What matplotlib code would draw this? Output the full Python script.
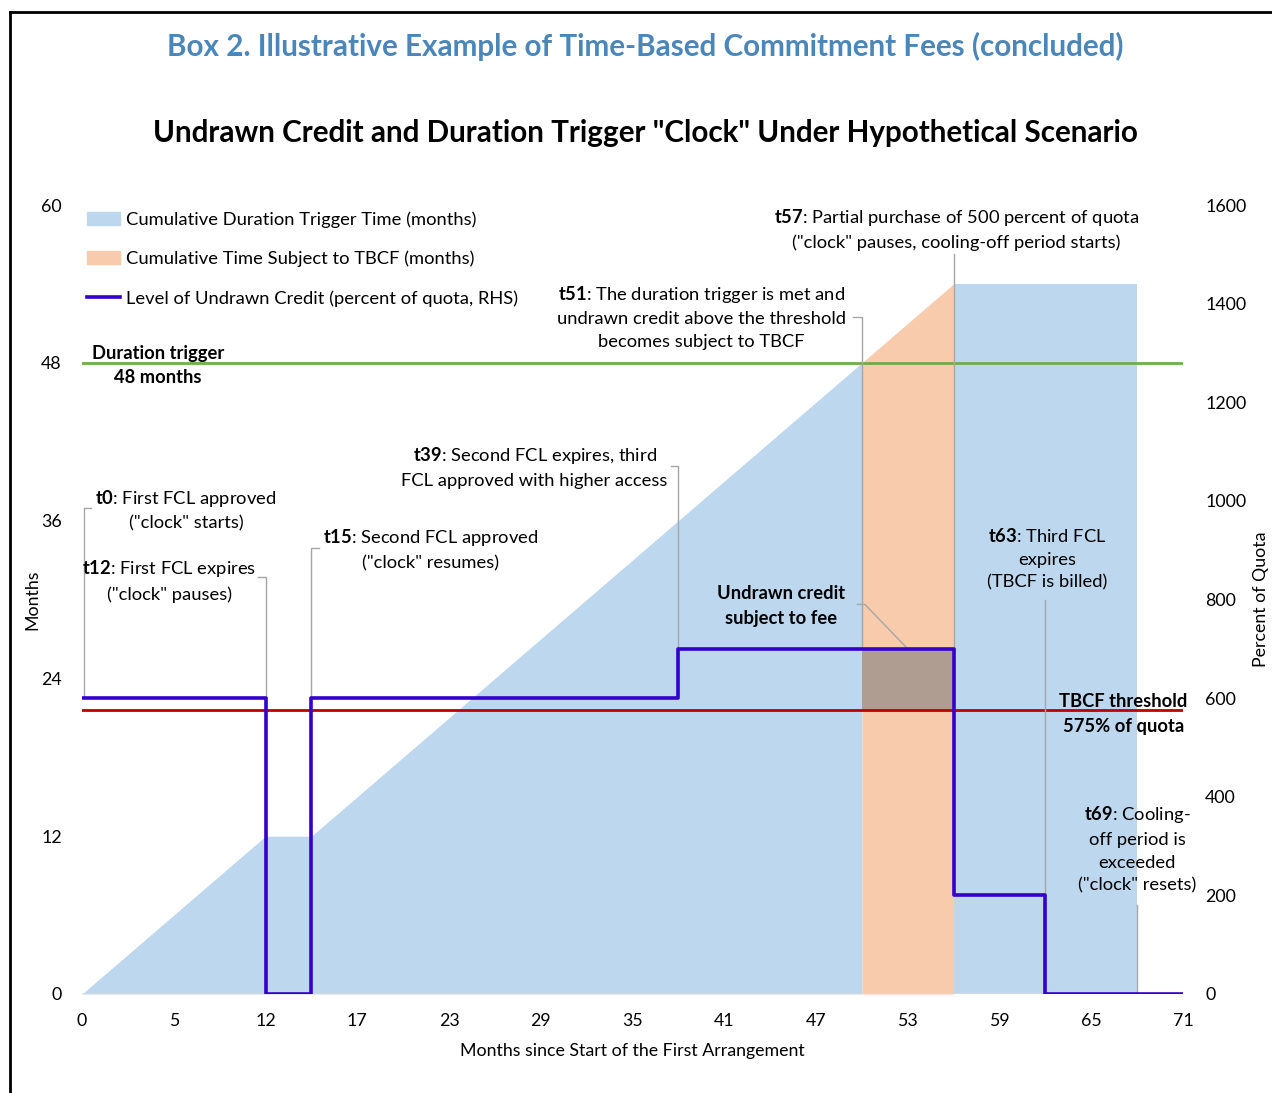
import numpy as np
import matplotlib
matplotlib.use("Agg")
import matplotlib.pyplot as plt
from matplotlib.lines import Line2D
from matplotlib.patches import Patch

plt.rcParams['font.family'] = ['Lato', 'DejaVu Sans']
plt.rcParams['mathtext.fontset'] = 'custom'
plt.rcParams['mathtext.rm'] = 'Lato'
plt.rcParams['mathtext.bf'] = 'Lato:bold'

# cumulative duration trigger time (months), left axis
clock_x = [0, 12, 15, 51]
clock_y = [0, 12, 12, 48]
# cumulative time subject to TBCF (months)
tbcf_x = [51, 57]
tbcf_y = [48, 54]
# clock paused during cooling-off
pause_x = [57, 69]
pause_y = [54, 54]
# undrawn credit, percent of quota (RHS), step changes
credit_x = [0, 12, 15, 39, 57, 63, 72]
credit_y = [600, 0, 600, 700, 200, 0, 0]
trigger = 48
threshold = 575
fee_x = [51, 57]
fee_top = 700

xtick_pos = [0, 6, 12, 18, 24, 30, 36, 42, 48, 54, 60, 66, 72]
xtick_lab = ['0', '5', '12', '17', '23', '29', '35', '41', '47', '53', '59', '65', '71']
ltick = [0, 12, 24, 36, 48, 60]
rtick = [0, 200, 400, 600, 800, 1000, 1200, 1400, 1600]

blue = '#BDD7EE'
orange = '#F8CBAD'
purple = '#3300CC'
gray = '#A6A6A6'
fs = 12.8      # ticks / axis labels
fn = 13.2      # notes and legend

fig = plt.figure(figsize=(12.72, 10.93), dpi=100)
ax = fig.add_axes([82/1272, 99/1093, 1101/1272, 789/1093])
ax2 = ax.twinx()

ax.fill_between(clock_x, clock_y, color=blue, lw=0)
ax.fill_between(pause_x, pause_y, color=blue, lw=0)
ax.fill_between(tbcf_x, tbcf_y, color=orange, lw=0)
ax.axhline(0, color='#D9D9D9', lw=1.2)
ax.axhline(trigger, color='#70AD47', lw=2)

ax2.fill_between(fee_x, threshold, fee_top, color='#AE9D90', lw=0, zorder=2)
ax2.axhline(threshold, color='#C00000', lw=2, zorder=3)
ax2.plot(credit_x, credit_y, drawstyle='steps-post', color=purple, lw=2.6, zorder=5)

ax.set_xlim(0, 72)
ax.set_ylim(0, 60)
ax2.set_ylim(0, 1600)
ax.set_xticks(xtick_pos, xtick_lab)
ax.set_yticks(ltick)
ax2.set_yticks(rtick)
for a in (ax, ax2):
    for s in a.spines.values():
        s.set_visible(False)
ax.tick_params(axis='x', length=0, pad=14, labelsize=fs)
ax.tick_params(axis='y', length=0, pad=14.5, labelsize=fs)
ax2.tick_params(axis='y', length=0, pad=16, labelsize=fs)
ax.set_xlabel('Months since Start of the First Arrangement', fontsize=fs, labelpad=10)
ax.set_ylabel('Months', fontsize=fs)
ax2.set_ylabel('Percent of Quota', fontsize=fs)
ax.yaxis.set_label_coords((40 - 82) / 1101, 0.5)
ax2.yaxis.set_label_coords((1253 - 82) / 1101, 0.5)

# leader lines
leaders = [
    [(0.6, 985), (0.1, 985), (0.1, 600)],
    [(11.5, 845), (12, 845), (12, 600)],
    [(15.5, 905), (15, 905), (15, 600)],
    [(38.5, 1070), (39, 1070), (39, 700)],
    [(50.4, 1373), (51, 1373), (51, 700)],
    [(57, 1500), (57, 700)],
    [(63, 800), (63, 200)],
    [(69, 180), (69, 0)],
    [(50.7, 790), (51.2, 790), (54, 700)],
]
for pts in leaders:
    xs, ys = zip(*pts)
    ax2.plot(xs, ys, color=gray, lw=1, zorder=4)

notes = [
    (4.97, 1274, 'Duration trigger\n48 months', 'bold'),
    (68.1, 568, 'TBCF threshold\n575% of quota', 'bold'),
    (6.8, 982, '$\\mathbf{t0}$: First FCL approved\n("clock" starts)', 'normal'),
    (5.7, 838, '$\\mathbf{t12}$: First FCL expires\n("clock" pauses)', 'normal'),
    (22.8, 902, '$\\mathbf{t15}$: Second FCL approved\n("clock" resumes)', 'normal'),
    (29.6, 1069, '$\\mathbf{t39}$: Second FCL expires, third\nFCL approved with higher access', 'normal'),
    (40.5, 1373, '$\\mathbf{t51}$: The duration trigger is met and\nundrawn credit above the threshold\nbecomes subject to TBCF', 'normal'),
    (57.2, 1551, '$\\mathbf{t57}$: Partial purchase of 500 percent of quota\n("clock" pauses, cooling-off period starts)', 'normal'),
    (45.7, 787, 'Undrawn credit\nsubject to fee', 'bold'),
    (63.1, 882, '$\\mathbf{t63}$: Third FCL\nexpires\n(TBCF is billed)', 'normal'),
    (69.0, 294, '$\\mathbf{t69}$: Cooling-\noff period is\nexceeded\n("clock" resets)', 'normal'),
]
for x, y, s, w in notes:
    ax2.text(x, y, s, ha='center', va='center', fontsize=fn, fontweight=w,
             linespacing=1.52, zorder=6)

ax.legend([Patch(color=blue), Patch(color=orange), Line2D([], [], color=purple, lw=2.6)],
          ['Cumulative Duration Trigger Time (months)',
           'Cumulative Time Subject to TBCF (months)',
           'Level of Undrawn Credit (percent of quota, RHS)'],
          loc='upper left', bbox_to_anchor=(87/1272, 1 - 211/1093), bbox_transform=fig.transFigure,
          frameon=False, fontsize=fn, handlelength=1.8, handletextpad=0.3,
          labelspacing=1.25, borderpad=0, borderaxespad=0)

fig.text(645/1272, 1 - 46/1093, 'Box 2. Illustrative Example of Time-Based Commitment Fees (concluded)',
         ha='center', va='center', fontsize=21.3, fontweight='bold', color='#4A86BA')
fig.text(645/1272, 1 - 133/1093, 'Undrawn Credit and Duration Trigger "Clock" Under Hypothetical Scenario',
         ha='center', va='center', fontsize=21.3, fontweight='bold', color='black')

# outer frame
fig.add_artist(Line2D([10/1272, 10/1272], [0, 1 - 12/1093], color='black', lw=2, transform=fig.transFigure))
fig.add_artist(Line2D([10/1272, 1], [1 - 12/1093, 1 - 12/1093], color='black', lw=2, transform=fig.transFigure))

fig.savefig('out.png', dpi=100)
